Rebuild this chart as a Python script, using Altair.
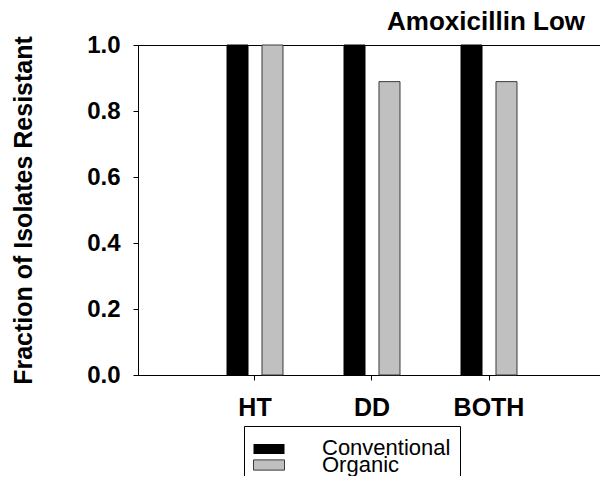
import altair as alt
import pandas as pd

groups = ["HT", "DD", "BOTH"]
series = ["Conventional", "Organic"]
conventional = [1.0, 1.0, 1.0]
organic = [1.0, 0.889, 0.889]
y_ticks = [0.0, 0.2, 0.4, 0.6, 0.8, 1.0]
fill_colors = ["#000000", "#c0c0c0"]
edge_colors = ["#000000", "#3a3a3a"]

rows = []
for g, c, o in zip(groups, conventional, organic):
    rows.append({"group": g, "type": "Conventional", "value": c})
    rows.append({"group": g, "type": "Organic", "value": o})
df = pd.DataFrame(rows)

FONT = "Liberation Sans"
RECT = "M-1,-0.33H1V0.33H-1Z"
# raised swatch; the zero-length segment only widens the legend frame
RECT_UP = "M-1,-1.04H1V-0.38H-1Z M12.55,-0.7H12.55"

chart = alt.Chart(df).mark_bar(strokeWidth=1).encode(
    x=alt.X("group:N", sort=groups,
            scale=alt.Scale(paddingInner=0.5214, paddingOuter=0.7607),
            axis=alt.Axis(title=None, labelAngle=0, labelFont=FONT, labelFontSize=25,
                          labelFontWeight="bold", labelColor="black", labelPadding=15,
                          tickSize=5, tickColor="black", domainColor="black",
                          labelBaseline="top")),
    xOffset=alt.XOffset("type:N", sort=series,
                        scale=alt.Scale(paddingInner=0.4, paddingOuter=0)),
    y=alt.Y("value:Q", scale=alt.Scale(domain=[0, 1], nice=False),
            axis=alt.Axis(title="Fraction of Isolates Resistant", values=y_ticks, format=".1f",
                          grid=False, labelFont=FONT, labelFontSize=24, labelFontWeight="bold",
                          labelColor="black", labelPadding=13, tickSize=5, tickColor="black",
                          domainColor="black", titleFont=FONT, titleFontSize=25,
                          titleFontWeight="bold", titleColor="black", titleX=-107, titleY=165,
                          titleBaseline="alphabetic", titleAngle=270)),
    color=alt.Color("type:N", sort=series,
                    scale=alt.Scale(domain=series, range=fill_colors),
                    legend=alt.Legend(title=None, orient="none", legendX=106, legendY=381,
                                      values=[series[0]],
                                      strokeColor="black", padding=9,
                                      symbolType=RECT_UP, symbolSize=961,
                                      symbolStrokeWidth=1, labelFont=FONT, labelFontSize=22,
                                      labelColor="black", labelOffset=37, labelBaseline="bottom",
                                      clipHeight=50)),
    stroke=alt.Stroke("type:N",
                      scale=alt.Scale(domain=series[::-1], range=edge_colors[::-1]),
                      legend=alt.Legend(title=None, orient="none", legendX=115, legendY=404,
                                        values=[series[1]], padding=0,
                                        symbolType=RECT, symbolSize=961,
                                        symbolFillColor=fill_colors[1],
                                        symbolStrokeWidth=1, labelFont=FONT, labelFontSize=22,
                                        labelColor="black", labelOffset=37)),
).properties(
    width=468,
    height=330,
    title=alt.TitleParams("Amoxicillin Low", anchor="end", font=FONT, fontSize=26,
                          fontWeight="bold", color="black", dx=-21, dy=23, offset=0,
                          baseline="alphabetic"),
    autosize=alt.AutoSizeParams(type="none"),
    padding={"left": 130, "top": 37, "right": -6, "bottom": 101},
).configure_view(stroke="black", strokeWidth=1)

chart.save("out.html", embed_options={"renderer": "svg", "actions": False})
